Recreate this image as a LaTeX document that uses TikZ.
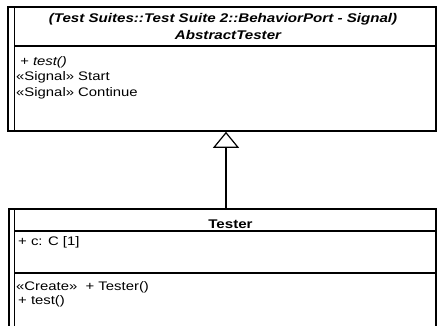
\documentclass[tikz,border=0pt]{standalone}
\usepackage{fontspec}
\setmainfont[FakeStretch=1.2]{Liberation Sans}
\usetikzlibrary{arrows.meta, positioning, calc}

\begin{document}
\begin{tikzpicture}[x=1pt, y=-1pt, >=Latex,
  classbox/.style={draw, line width=1.6pt, inner sep=0pt},
  member/.style={anchor=base west, inner sep=0pt, font=\fontsize{12.4}{14}\selectfont},
  title/.style={anchor=base, inner sep=0pt, font=\fontsize{12.6}{14}\selectfont\bfseries}]
\clip (0,0) rectangle (441,326);
% AbstractTester
\node[classbox, minimum width=428pt, minimum height=124pt] (abs) at (222,69) {};
\draw[line width=1.2pt] ([xshift=7pt]abs.north west) -- ([xshift=7pt]abs.south west);
\draw[line width=1.2pt] ([xshift=7pt]abs.north west |- 0,46) -- (abs.east |- 0,46);
\node[title] (absname1) at (223,23) {\itshape (Test Suites::Test Suite 2::BehaviorPort - Signal)};
\node[title] (absname2) at (228,40) {\itshape AbstractTester};
\node[member] (absop) at (20,66) {\itshape + test()};
\node[member] (sig1) at (16,80.5) {«Signal» Start};
\node[member] (sig2) at (16,97) {«Signal» Continue};
% Tester
\node[classbox, minimum width=427pt, minimum height=140pt] (tst) at (222.5,279) {};
\draw[line width=1.2pt] ([xshift=6pt]tst.north west) -- ([xshift=6pt]tst.south west);
\draw[line width=1.2pt] ([xshift=6pt]tst.north west |- 0,231) -- (tst.east |- 0,231);
\draw[line width=1.2pt] ([xshift=6pt]tst.north west |- 0,273) -- (tst.east |- 0,273);
\node[title] (tstname) at (230.5,228) {Tester};
\node[member] (attr) at (18,245) {+ c: C [1]};
\node[member] (ctor) at (16,290) {«Create»\ \ + Tester()};
\node[member] (tstop) at (18,304) {+ test()};
% generalization
\draw[-{Triangle[open, length=16pt, width=26pt, line width=1.2pt]}, line width=1.4pt] (tst.north -| 226,0) -- (abs.south -| 226,0);
\end{tikzpicture}
\end{document}
